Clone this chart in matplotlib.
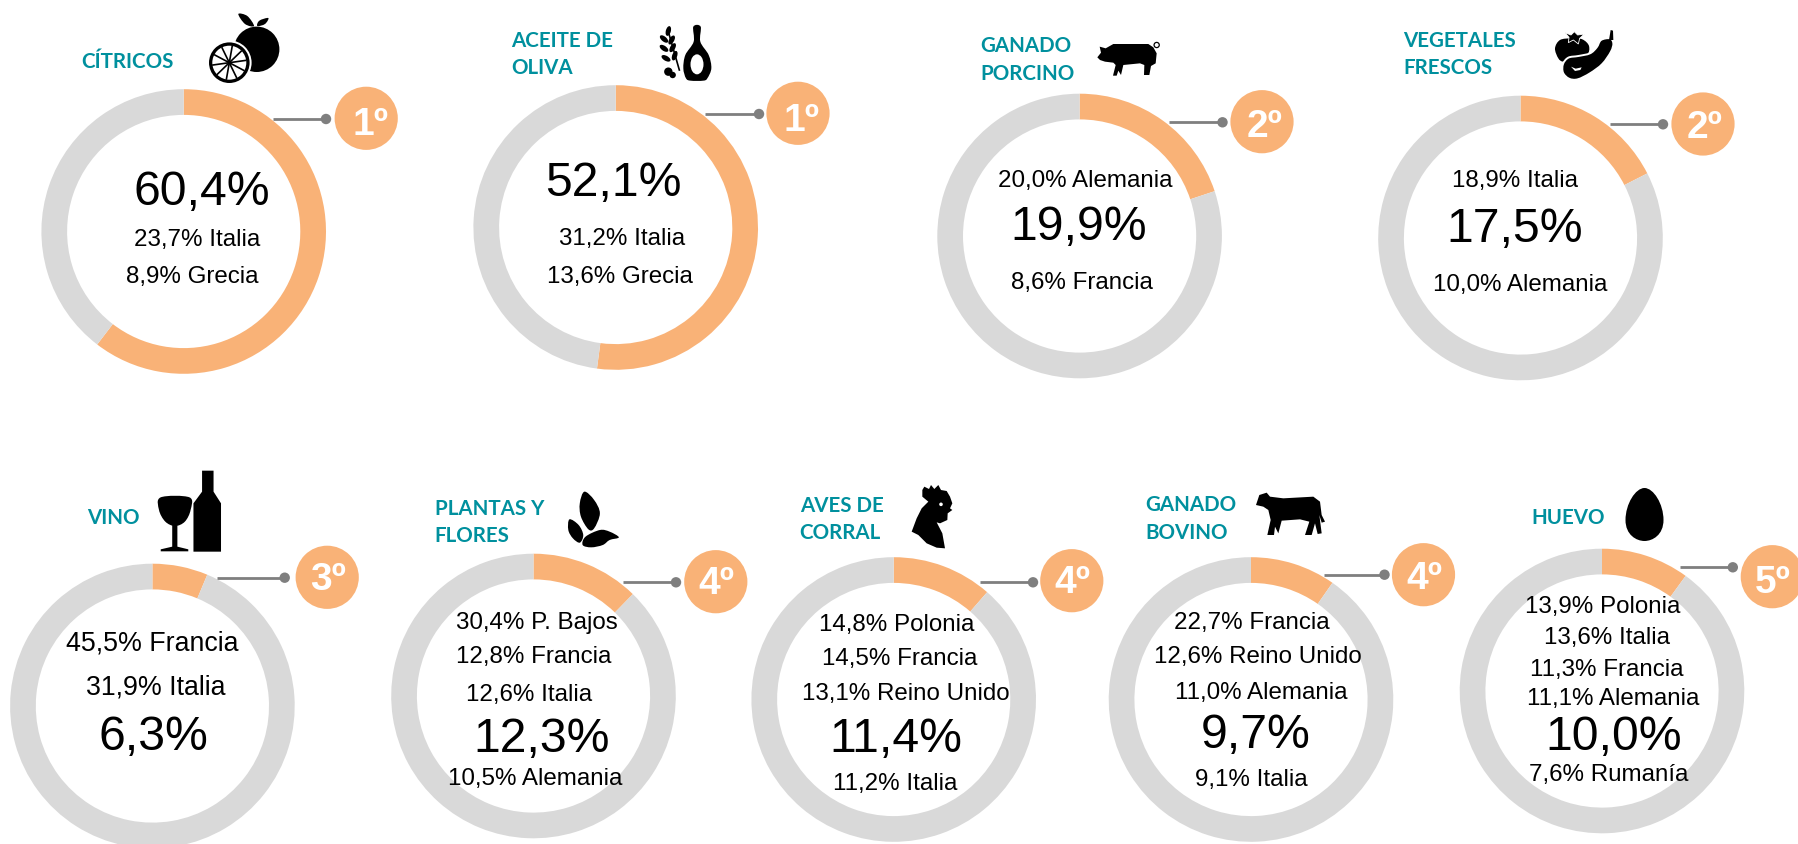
import numpy as np
import matplotlib
matplotlib.use("Agg")
import matplotlib.pyplot as plt
from matplotlib.patches import Circle, Ellipse, Polygon, PathPatch
from matplotlib.path import Path

W, H = 1798, 844

# ---------- data ----------
names = ["CÍTRICOS", "ACEITE DE\nOLIVA", "GANADO\nPORCINO", "VEGETALES\nFRESCOS", "VINO",
         "PLANTAS Y\nFLORES", "AVES DE\nCORRAL", "GANADO\nBOVINO", "HUEVO"]
shares = [60.4, 52.1, 19.9, 17.5, 6.3, 12.3, 11.4, 9.7, 10.0]
ranks = ["1º", "1º", "2º", "2º", "3º", "4º", "4º", "4º", "5º"]
share_labels = ["60,4%", "52,1%", "19,9%", "17,5%", "6,3%", "12,3%", "11,4%", "9,7%", "10,0%"]
rivals = [
    ["23,7% Italia", "8,9% Grecia"],
    ["31,2% Italia", "13,6% Grecia"],
    ["20,0% Alemania", "8,6% Francia"],
    ["18,9% Italia", "10,0% Alemania"],
    ["45,5% Francia", "31,9% Italia"],
    ["30,4% P. Bajos", "12,8% Francia", "12,6% Italia", "10,5% Alemania"],
    ["14,8% Polonia", "14,5% Francia", "13,1% Reino Unido", "11,2% Italia"],
    ["22,7% Francia", "12,6% Reino Unido", "11,0% Alemania", "9,1% Italia"],
    ["13,9% Polonia", "13,6% Italia", "11,3% Francia", "11,1% Alemania", "7,6% Rumanía"],
]

# ---------- layout (pixels, y down) ----------
centers = [(183.7, 231.5), (615.7, 227.5), (1079.6, 236), (1520.5, 238), (152.4, 706),
           (533.5, 696), (893.7, 699.5), (1251, 699.5), (1602, 691)]
big_pos = [(201.8, 192.5), (613.4, 183.5), (1079.0, 227.5), (1515.0, 229.5), (153.3, 737.5),
           (541.6, 739.5), (895.6, 739.5), (1255.7, 736), (1614, 737)]
rival_pos = [
    [(197.6, 240), (192.2, 276.5)],
    [(621.7, 238.5), (620, 276.5)],
    [(1085, 180.5), (1082, 282.5)],
    [(1515, 181.5), (1520, 285)],
    [(152, 643.5), (155.9, 687.5)],
    [(536.7, 623), (533.9, 656.5), (528.7, 695.5), (535.3, 778.5)],
    [(896.7, 625), (900, 659), (906, 694), (895.6, 784)],
    [(1251.7, 623), (1258, 656.5), (1261, 693), (1251.4, 780)],
    [(1603, 607.5), (1607, 638), (1607, 670), (1613, 698.5), (1608.8, 775)],
]
rival_size = [17.4, 17.4, 17.4, 17.4, 19.3, 17.4, 17.4, 17.4, 17.4]
title_pos = [(81.5, 62), (511, 54.5), (980, 60), (1403, 54.5), (87, 518),
             (434.6, 522.5), (799.7, 519.5), (1145, 519), (1531, 518)]
badges = [(366.2, 118.3), (798, 113.3), (1262, 121.7), (1703, 124), (327.2, 577.3),
          (715.8, 581.7), (1071.8, 580.7), (1423.5, 574.7), (1772.3, 576.7)]
rank_x = [370.5, 802, 1264.5, 1705, 328, 716, 1072, 1424, 1773]
rank_base = [135, 130.7, 136.7, 138.3, 590, 594, 593, 589.3, 592.7]
leaders = [(273.2, 326, 119), (705, 759, 114), (1169, 1222.5, 122.3), (1610, 1663, 124.3),
           (217, 284.7, 577.7), (622.8, 676, 582.3), (980, 1033, 582.3),
           (1323.8, 1384.5, 574.7), (1679.5, 1732.8, 567.3)]

R, RING = 142.3, 25.7
ORANGE, GREY, TEAL, LINE = "#F9B277", "#D9D9D9", "#00909E", "#7F7F7F"
SANS = "Liberation Sans"

fig = plt.figure(figsize=(W / 100, H / 100), dpi=100, facecolor="white")
ax = fig.add_axes([0, 0, 1, 1])


def Y(py):
    return H - py


# ---------- donuts ----------
for i, v in enumerate(shares):
    cx, cy = centers[i]
    ax.pie([v, 100 - v], colors=[ORANGE, GREY], center=(cx, Y(cy)), radius=R, startangle=90,
           counterclock=False, frame=True, wedgeprops=dict(width=RING, linewidth=0))
    bx, by = big_pos[i]
    ax.text(bx, Y(by), share_labels[i], fontsize=34.7, family=SANS, ha="center", va="center",
            color="black", zorder=5)
    for lab, (tx, ty) in zip(rivals[i], rival_pos[i]):
        ax.text(tx, Y(ty), lab, fontsize=rival_size[i], family=SANS, ha="center", va="center",
                color="black", zorder=5)
    tx, ty = title_pos[i]
    ax.text(tx, Y(ty), names[i], fontsize=14.8, family="Lato", weight="bold", color=TEAL,
            ha="left", va="center", linespacing=1.45, zorder=5)
    x0, x1, ly = leaders[i]
    ax.plot([x0, x1], [Y(ly), Y(ly)], color=LINE, lw=2.0, solid_capstyle="butt", zorder=3)
    ax.add_patch(Circle((x1, Y(ly)), 5.2, fc=LINE, ec="none", zorder=3))
    bx, by = badges[i]
    ax.add_patch(Circle((bx, Y(by)), 31.6, fc=ORANGE, ec="none", zorder=3))
    ax.text(rank_x[i], Y(rank_base[i]), ranks[i], fontsize=28, family=SANS, weight="bold",
            color="white", ha="center", va="baseline", zorder=5)


# ---------- pictograms ----------
def pts(seq, x0, y0, sx=3.0, sy=3.0):
    return [(x0 + a / sx, Y(y0 + b / sy)) for a, b in seq]


def shape(seq, x0, y0, sx=3.0, sy=3.0, color="black", ec="none", lw=0, z=4):
    ax.add_patch(Polygon(pts(seq, x0, y0, sx, sy), closed=True, fc=color, ec=ec, lw=lw, zorder=z))


def blob(seq, x0, y0, sx=3.0, sy=3.0, color="black", ec="none", lw=0, z=4):
    p = np.array(pts(seq, x0, y0, sx, sy))
    n = len(p)
    verts, codes = [p[0]], [Path.MOVETO]
    for k in range(n):
        a, b, c, d = p[(k - 1) % n], p[k], p[(k + 1) % n], p[(k + 2) % n]
        verts += [b + (c - a) / 6, c - (d - b) / 6, c]
        codes += [Path.CURVE4] * 3
    ax.add_patch(PathPatch(Path(verts, codes), fc=color, ec=ec, lw=lw, zorder=z))


# citrus
ax.add_patch(Circle((256.7, Y(49.3)), 22.7, fc="black", ec="none", zorder=4))
ax.add_patch(Circle((229.3, Y(62.7)), 22.3, fc="white", ec="none", zorder=4))
ax.add_patch(Circle((229.3, Y(62.7)), 20.3, fc="black", ec="none", zorder=4))
ax.add_patch(Circle((229.3, Y(62.7)), 17.0, fc="white", ec="none", zorder=4))
for ang in np.arange(0, 360, 36):
    ax.plot([229.3, 229.3 + 16.5 * np.cos(np.radians(ang + 8))],
            [Y(62.7), Y(62.7) + 16.5 * np.sin(np.radians(ang + 8))],
            color="black", lw=1.2, zorder=4)
blob([(115, 42), (142, 48), (162, 78), (135, 72)], 200, 0)
blob([(172, 78), (178, 62), (205, 54), (195, 72)], 200, 0)

# olive oil
blob([(130, 35), (152, 35), (151, 80), (176, 120), (184, 160), (172, 190), (160, 197), (122, 197),
      (108, 190), (100, 160), (106, 120), (131, 80)], 650, 15)
ax.add_patch(Ellipse((650 + 141 / 3, Y(15 + 148 / 3)), 13, 20, fc="white", ec="none", zorder=4))
ax.plot([650 + 55 / 3, 650 + 88 / 3], [Y(15 + 50 / 3), Y(15 + 165 / 3)], color="black", lw=1.2, zorder=4)
for ex, ey, ang in [(55, 48, 75), (42, 72, 140), (65, 75, 60), (42, 100, 145), (68, 98, 60),
                    (48, 130, 150), (74, 122, 70)]:
    ax.add_patch(Ellipse((650 + ex / 3, Y(15 + ey / 3)), 10, 5, angle=ang, fc="black", ec="none", zorder=4))
ax.add_patch(Circle((650 + 55 / 3, Y(15 + 170 / 3)), 4.2, fc="black", ec="none", zorder=4))
ax.add_patch(Circle((650 + 68 / 3, Y(15 + 180 / 3)), 3.2, fc="black", ec="none", zorder=4))

# pig
shape([(37, 82), (48, 68), (44, 50), (62, 55), (85, 42), (190, 42), (205, 52), (215, 70), (212, 100),
       (198, 108), (193, 135), (177, 135), (178, 105), (165, 100), (115, 105), (108, 135), (100, 122),
       (95, 137), (84, 137), (92, 105), (85, 98), (60, 95), (45, 90)], 1085, 30)
ax.add_patch(Circle((1085 + 215 / 3, Y(30 + 45 / 3)), 2.6, fc="none", ec="black", lw=0.9, zorder=4))

# vegetables
blob([(30, 85), (45, 60), (80, 55), (112, 58), (132, 78), (125, 105), (80, 118), (55, 125), (40, 115)],
     1545, 20)
shape([(60, 38), (78, 45), (88, 35), (98, 45), (118, 42), (104, 55), (100, 72), (85, 60), (70, 68), (72, 52)],
      1545, 20, ec="white", lw=0.6, z=5)
blob([(195, 55), (205, 70), (198, 95), (172, 132), (135, 160), (98, 178), (72, 176), (54, 158), (54, 132),
      (70, 113), (100, 108), (135, 100), (155, 82), (168, 60)], 1545, 20, ec="white", lw=1.4, z=5)
shape([(197, 30), (204, 32), (205, 60), (192, 60)], 1545, 20, z=6)
shape([(78, 140), (92, 146), (110, 142), (106, 150), (90, 153)], 1545, 20, color="white", z=6)

# wine
shape([(352, 62), (372, 62), (372, 125), (385, 160), (385, 305), (337, 305), (337, 160), (352, 125)],
      0, 450, 1.742)
blob([(280, 142), (330, 142), (332, 180), (322, 215), (305, 228), (288, 215), (277, 180)], 0, 450, 1.742)
shape([(300, 225), (309, 225), (309, 290), (328, 298), (328, 304), (280, 304), (280, 298), (300, 290)], 0, 450, 1.742)

# leaves
for seq in ([(1018, 125), (1035, 150), (1045, 190), (1035, 235), (1025, 238), (1012, 200), (1010, 160)],
            [(992, 208), (1008, 225), (1016, 255), (1010, 278), (998, 265), (990, 240)],
            [(1015, 285), (1020, 260), (1045, 240), (1062, 245), (1078, 262), (1062, 270), (1050, 285), (1030, 292)]):
    blob(seq, 0, 450, 1.742)

# rooster
shape([(52, 45), (58, 35), (72, 42), (78, 30), (88, 42), (100, 30), (108, 45), (125, 48), (135, 65), (142, 85),
       (135, 100), (142, 105), (128, 115), (127, 135), (105, 145), (95, 142), (112, 175), (120, 220), (95, 218),
       (65, 205), (40, 180), (20, 170), (35, 130), (50, 100), (70, 80), (52, 65)], 905, 475)
ax.add_patch(Circle((905 + 108 / 3, Y(475 + 88 / 3)), 1.8, fc="white", ec="none", zorder=5))

# cow
shape([(18, 75), (28, 45), (50, 38), (60, 50), (100, 55), (190, 50), (210, 65), (215, 105), (225, 125), (215, 128),
       (208, 105), (215, 160), (203, 162), (195, 130), (185, 165), (165, 165), (178, 125), (150, 118), (95, 122),
       (85, 160), (75, 140), (72, 165), (52, 165), (62, 120), (55, 90), (40, 80)], 1250, 480)

# egg
ex, et, eb, ew = 1644.5, 488, 541, 19
ax.add_patch(PathPatch(Path(
    [(ex, Y(et)), (ex + 9, Y(et)), (ex + ew, Y(et + 16)), (ex + ew, Y(et + 32)),
     (ex + ew, Y(eb - 6)), (ex + 8, Y(eb)), (ex, Y(eb)),
     (ex - 8, Y(eb)), (ex - ew, Y(eb - 6)), (ex - ew, Y(et + 32)),
     (ex - ew, Y(et + 16)), (ex - 9, Y(et)), (ex, Y(et))],
    [Path.MOVETO] + [Path.CURVE4] * 12), fc="black", ec="none", zorder=4))

ax.set_xlim(0, W)
ax.set_ylim(0, H)
ax.set_aspect("equal")
ax.axis("off")
fig.savefig("out.png", dpi=100, facecolor="white")
